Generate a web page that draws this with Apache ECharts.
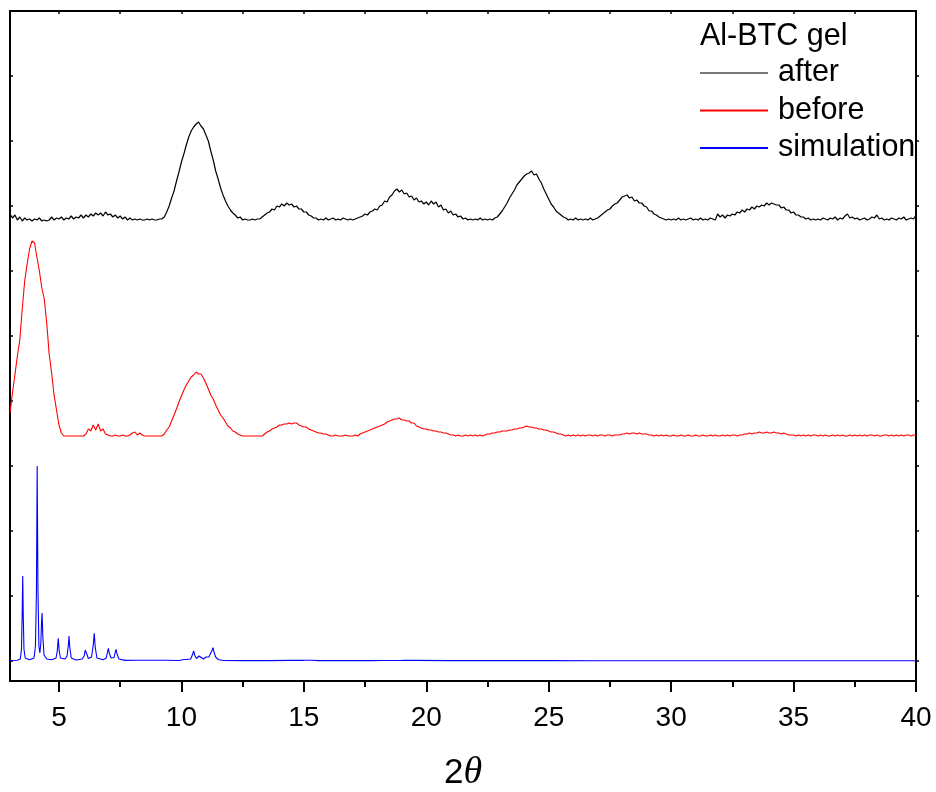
<!DOCTYPE html>
<html><head><meta charset="utf-8">
<script src="https://cdn.jsdelivr.net/npm/echarts@6/dist/echarts.min.js"></script>
<style>html,body{margin:0;padding:0;background:#fff}#c{width:936px;height:792px}</style>
</head><body><div id="c"></div>
<script>
// ---- data ----
const legendTitle = 'Al-BTC gel';
const seriesNames = ['after', 'before', 'simulation'];
const xStart = 3.0, xStep = 0.1; // sampling grid of the measured patterns (2θ)
const afterValues = [
447,443,446,441,444,440,443,441,442,440,
442,441,443,440,441,440,441,444,441,443,
442,444,441,443,442,445,442,444,443,446,
443,446,444,447,445,448,446,448,445,449,
446,447,444,446,443,445,442,444,441,443,
441,442,441,442,441,441,442,441,442,441,
441,442,442,444,449,455,463,470,480,489,
499,507,516,524,530,534,537,539,535,532,
526,520,510,501,490,482,473,466,460,455,
451,448,446,443,444,441,442,441,441,442,
441,442,442,444,446,448,449,452,451,455,
454,457,455,458,456,457,454,455,452,452,
449,449,446,445,443,443,441,442,441,443,
441,442,443,441,442,441,443,442,441,442,
441,442,443,444,445,447,446,449,450,452,
451,455,456,460,459,464,466,470,472,469,
471,467,468,464,465,461,463,459,460,457,
459,456,460,457,459,454,456,451,452,448,
450,446,447,444,445,442,443,441,442,441,
442,441,443,441,442,441,442,441,443,444,
447,450,454,458,463,467,471,476,479,482,
485,487,488,490,486,487,482,478,472,467,
462,457,454,450,448,446,444,443,441,442,
441,443,441,442,441,442,441,443,441,442,
443,445,447,449,451,452,455,457,458,461,
464,465,466,463,464,460,461,458,458,455,
454,450,450,447,446,444,443,442,441,442,
441,442,441,443,441,442,441,442,443,441,
442,441,443,441,442,441,443,442,441,447,
444,446,443,446,445,447,446,449,448,451,
449,452,451,454,452,455,454,456,455,458,
456,458,457,456,456,453,454,451,451,448,
449,446,446,444,444,442,443,441,442,441,
442,441,443,442,441,443,442,444,441,443,
442,445,447,443,444,442,443,441,442,443,
441,442,444,443,446,442,443,441,442,441,
443,442,441,443,442,444,441,442,443,442,
446];
const beforeValues = [
248,268,286,305,321,352,380,397,412,420,
418,404,390,373,362,338,307,288,266,251,
236,228,225,225,225,225,225,225,225,225,
225,227,232,230,236,231,237,230,232,227,
226,225,225,226,225,225,226,225,225,226,
228,229,226,228,226,225,225,225,225,225,
225,225,225,227,231,234,240,246,252,259,
265,271,276,280,284,286,289,287,287,283,
278,272,266,262,256,251,246,243,239,235,
233,230,229,227,226,225,225,225,225,225,
225,225,225,225,227,229,230,232,233,234,
236,236,237,237,238,237,238,238,236,235,
234,234,232,231,230,229,228,228,227,227,
226,225,225,226,225,225,225,226,225,225,
225,226,225,227,228,229,230,231,232,233,
234,235,236,237,239,240,241,242,242,243,
241,241,240,240,238,238,235,234,233,232,
232,231,231,230,230,229,229,228,228,227,
226,226,225,226,225,225,226,225,226,225,
226,225,226,225,226,227,227,228,228,229,
229,230,230,230,231,231,232,232,233,233,
234,235,234,234,233,233,232,232,231,231,
230,229,229,228,227,227,226,225,226,225,
226,225,226,225,226,225,226,226,225,226,
225,226,226,225,226,226,225,226,226,226,
227,227,228,227,228,228,227,228,227,227,
227,226,226,225,226,225,226,225,226,225,
225,226,225,225,226,225,225,226,225,225,
226,225,225,226,225,225,226,225,226,225,
225,226,225,226,225,226,226,225,226,226,
227,227,228,227,228,228,229,228,228,229,
228,228,229,228,228,227,228,227,226,226,
226,225,226,225,226,225,226,225,226,226,
225,226,225,226,225,225,226,225,226,225,
226,225,225,226,225,226,225,226,225,226,
225,226,226,225,226,225,225,226,226,225,
226,225,226,225,226,225,226,226,225,226,
226];
const simulationPoints = [
[3.0,0.5],[3.3,0.8],[3.42,2],[3.47,12],[3.50,50],[3.52,85],[3.54,48],[3.57,12],[3.62,3],[3.8,1.2],
[3.98,3],[4.04,15],[4.08,70],[4.11,195],[4.14,75],[4.18,15],[4.22,8],[4.26,18],[4.29,40],[4.31,48],
[4.34,25],[4.39,6],[4.5,2],[4.7,1.2],[4.88,3],[4.93,10],[4.97,22.7],[5.01,10],[5.06,3],[5.25,2],
[5.33,5],[5.38,15],[5.41,25],[5.44,14],[5.5,3],[5.7,1],[5.95,2],[6.03,5],[6.07,11],[6.09,13],
[6.12,8],[6.2,2.5],[6.33,4],[6.4,16],[6.44,27.7],[6.48,14],[6.55,3],[6.8,1.2],[6.93,3],[6.99,10],
[7.02,12.7],[7.05,8],[7.13,3],[7.25,3.5],[7.3,9],[7.33,11.7],[7.37,7],[7.45,2],[7.7,0.6],[8.15,0.8],
[8.2,1.5],[8.25,0.8],[8.8,0.8],[8.86,2],[8.92,0.8],[9.22,0.8],[9.27,2],[9.33,0.8],[9.9,0.5],[10.1,1.5],
[10.15,2.7],[10.2,1.5],[10.38,2],[10.46,7],[10.5,10],[10.54,6],[10.62,2.5],[10.68,4],[10.72,5],[10.77,3],
[10.9,2],[11.0,4],[11.06,6],[11.12,4],[11.2,6],[11.26,11],[11.29,13.3],[11.33,9],[11.4,4],[11.5,1.5],
[11.7,0.5],[12.5,0.4],[13.5,0.4],[14.5,0.6],[14.57,1.5],[14.64,0.6],[14.95,0.6],[15.0,1.5],[15.06,0.8],[15.22,0.8],
[15.28,2],[15.34,0.8],[15.6,0.4],[17.7,0.4],[17.75,1],[17.8,0.4],[18.15,0.5],[18.2,1.2],[18.25,0.5],[18.45,0.5],
[18.5,1],[18.55,0.5],[19.0,0.6],[19.07,2],[19.14,0.8],[19.35,0.6],[19.4,1.5],[19.46,0.6],[20.95,0.4],[21.0,1],
[21.05,0.4],[23.15,0.4],[23.2,1],[23.25,0.4],[24.85,0.4],[24.9,0.9],[24.95,0.4],[27,0.3],[30,0.3],[35,0.3],[40,0.3]
];
const xMajorTicks = [5,10,15,20,25,30,35,40];
const xMinorTicks = [7.5,12.5,17.5,22.5,27.5,32.5,37.5];
const xTopTicks = [5,7.5,10,12.5,15,17.5,20,22.5,25,27.5,30,32.5,35,37.5];
const yTicks = [0,65,130,195,260,325,390,455,520,585];

// ---- chart ----
const toPairs = vals => vals.map((v, i) => [+(xStart + i * xStep).toFixed(2), v]);
const black = '#000';
const chart = echarts.init(document.getElementById('c'), null, {renderer: 'canvas'});
const baseX = {type: 'value', min: 3, max: 40, splitLine: {show: false}};
const baseY = {type: 'value', min: -20, max: 650, splitLine: {show: false}, axisLabel: {show: false}};
chart.setOption({
  animation: false,
  backgroundColor: '#fff',
  grid: {left: 10, right: 20, top: 11, bottom: 111, containLabel: false, outerBoundsMode: 'none'},
  title: {
    text: legendTitle, left: 700, top: 21, padding: 0,
    textStyle: {fontSize: 30.5, fontWeight: 'normal', fontFamily: 'Liberation Sans', color: black}
  },
  legend: {
    orient: 'vertical', left: 700, top: 57, padding: 0,
    itemWidth: 68, itemHeight: 2, itemGap: 5.5, icon: 'rect',
    textStyle: {fontSize: 30.5, fontFamily: 'Liberation Sans', color: black, lineHeight: 32, padding: [0, 0, 0, 5]},
    data: [{name: seriesNames[0], itemStyle: {color: '#777'}}, seriesNames[1], seriesNames[2]]
  },
  xAxis: [
    Object.assign({}, baseX, {
      position: 'bottom',
      axisLine: {show: true, onZero: false, lineStyle: {color: black, width: 2}},
      axisTick: {show: true, customValues: xMajorTicks, length: 11, lineStyle: {color: black, width: 2}},
      axisLabel: {show: true, customValues: xMajorTicks, fontSize: 28, fontFamily: 'Liberation Sans', color: black, margin: 23},
      name: '{a|2}{b|θ}', nameLocation: 'middle', nameGap: 73,
      nameTextStyle: {rich: {
        a: {fontSize: 35, fontFamily: 'Liberation Sans', fontStyle: 'normal', color: black},
        b: {fontSize: 38, fontFamily: 'Liberation Serif', fontStyle: 'italic', color: black}
      }}
    }),
    Object.assign({}, baseX, {
      position: 'bottom',
      axisLine: {show: false, onZero: false},
      axisTick: {show: true, customValues: xMinorTicks, length: 6, lineStyle: {color: black, width: 2}},
      axisLabel: {show: false}
    }),
    Object.assign({}, baseX, {
      position: 'top',
      axisLine: {show: true, onZero: false, lineStyle: {color: black, width: 2}},
      axisTick: {show: true, inside: true, customValues: xTopTicks, length: 3, lineStyle: {color: black, width: 1.5}},
      axisLabel: {show: false}
    })
  ],
  yAxis: [
    Object.assign({}, baseY, {
      position: 'left',
      axisLine: {show: true, onZero: false, lineStyle: {color: black, width: 2}},
      axisTick: {show: true, inside: true, customValues: yTicks, length: 3, lineStyle: {color: black, width: 1.5}}
    }),
    Object.assign({}, baseY, {
      position: 'right',
      axisLine: {show: true, onZero: false, lineStyle: {color: black, width: 2}},
      axisTick: {show: true, inside: false, customValues: yTicks, length: 3, lineStyle: {color: black, width: 1.5}}
    })
  ],
  series: [
    {name: seriesNames[2], type: 'line', data: simulationPoints, symbol: 'none', showSymbol: false,
     color: '#0000ff', lineStyle: {color: '#0000ff', width: 1.1}, xAxisIndex: 0, yAxisIndex: 0, z: 2},
    {name: seriesNames[1], type: 'line', data: toPairs(beforeValues), symbol: 'none', showSymbol: false,
     color: '#ff0000', lineStyle: {color: '#ff0000', width: 1.1}, xAxisIndex: 0, yAxisIndex: 0, z: 3},
    {name: seriesNames[0], type: 'line', data: toPairs(afterValues), symbol: 'none', showSymbol: false,
     color: '#000000', lineStyle: {color: '#000000', width: 1.2}, xAxisIndex: 0, yAxisIndex: 0, z: 4}
  ]
});
</script></body></html>
